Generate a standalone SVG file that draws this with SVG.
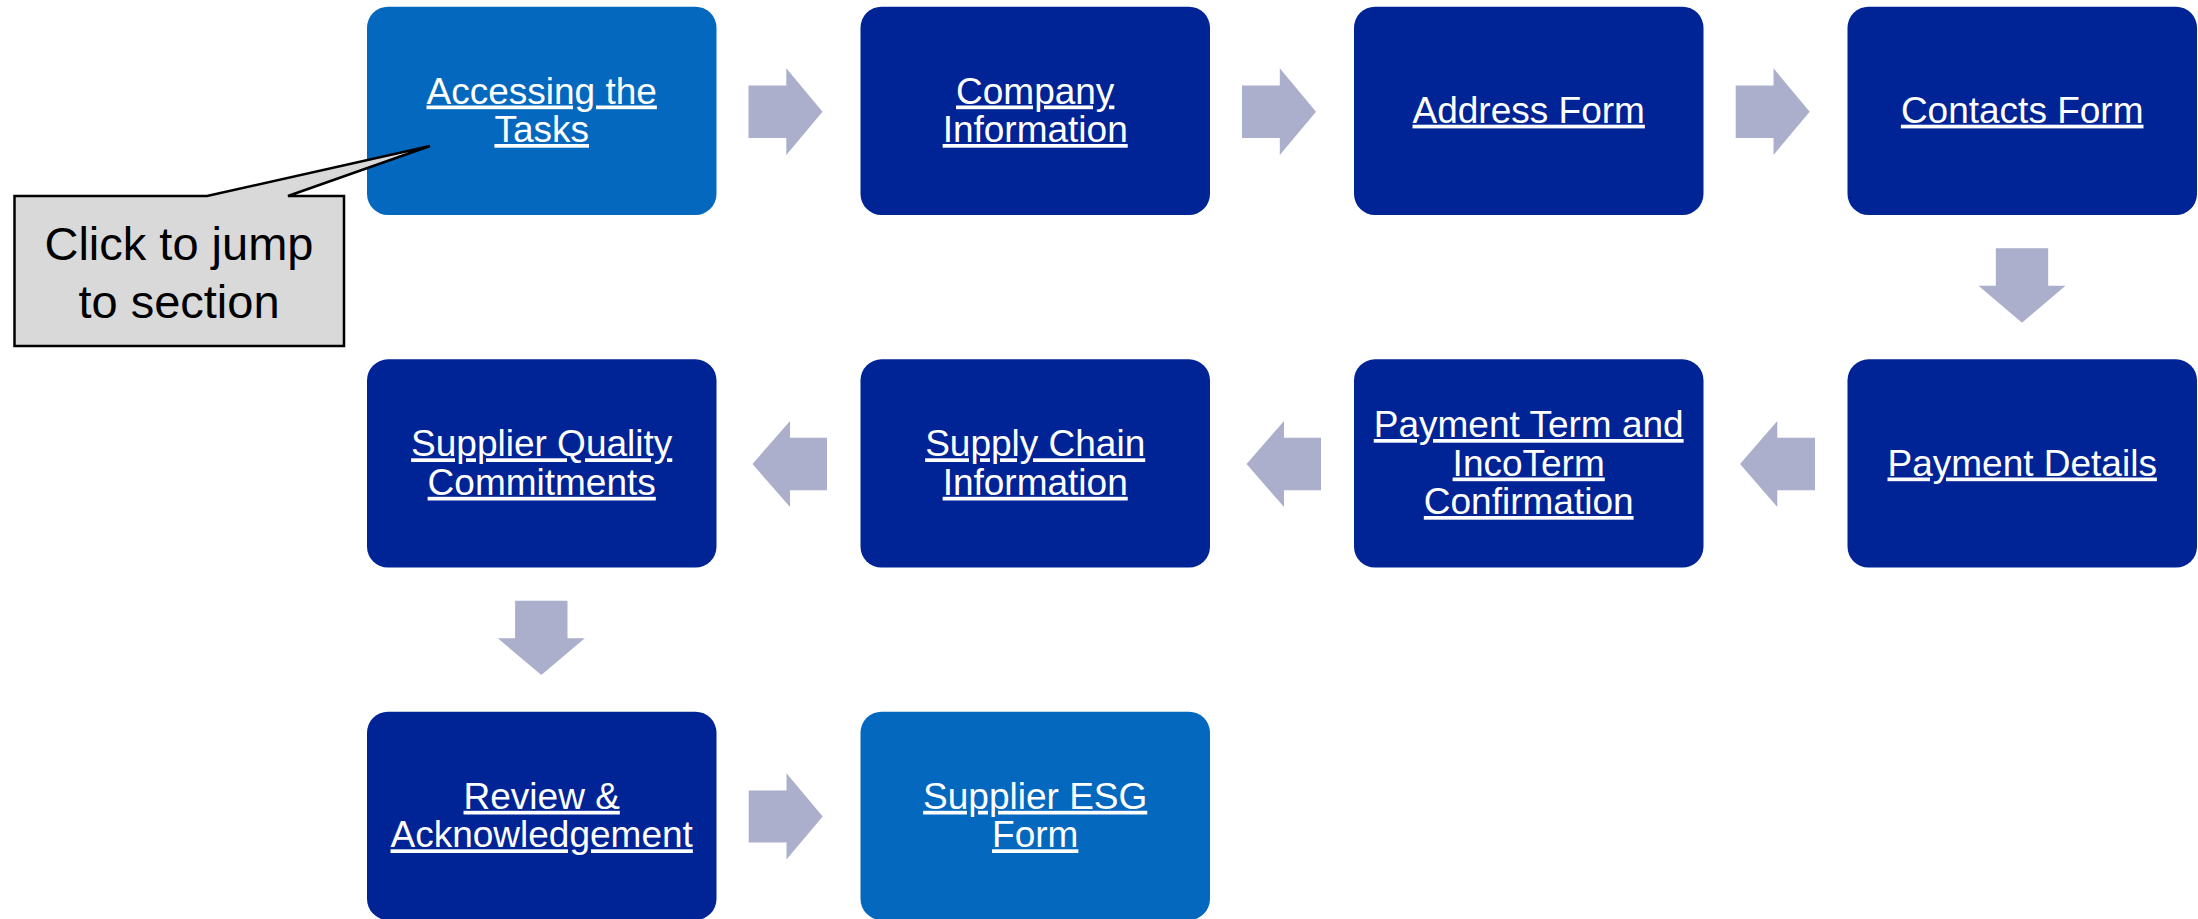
<svg xmlns="http://www.w3.org/2000/svg" width="2198" height="919" viewBox="0 0 2198 919">
<style>
.dark{fill:#002496}
.light{fill:#0468BE}
.lbl{font-family:"Liberation Sans",Arial,sans-serif;font-size:37px;fill:#FFFFFF;text-anchor:middle;text-decoration:underline}
.arr{fill:#ACAFCB}
.call{fill:#D9D9D9;stroke:#000000;stroke-width:2.5;stroke-linejoin:miter}
.ctext{font-family:"Liberation Sans",Arial,sans-serif;font-size:47px;fill:#000000;text-anchor:middle}
</style>
<rect width="2198" height="919" fill="#FFFFFF"/>
<g id="connectors">
<path class="arr" d="M748.5,85.5H786.3V68.3L822.5,111.7L786.3,155V137.9H748.5Z"/>
<path class="arr" d="M1242,85.5H1279.8V68.3L1316,111.7L1279.8,155V137.9H1242Z"/>
<path class="arr" d="M1735.7,85.5H1773.5V68.3L1809.7,111.7L1773.5,155V137.9H1735.7Z"/>
<path class="arr" d="M1995.8,248.3H2048.2V285.7H2065.5L2022,322.7L1978.5,285.7H1995.8Z"/>
<path class="arr" d="M1815,437.8H1777.3V421L1740,464L1777.3,507V490.2H1815Z"/>
<path class="arr" d="M1321,437.8H1284V421L1246.5,464L1284,507V490.2H1321Z"/>
<path class="arr" d="M827,437.8H790V421L752.5,464L790,507V490.2H827Z"/>
<path class="arr" d="M515.1,600.7H567.5V638.3H584.8L541.3,675L497.8,638.3H515.1Z"/>
<path class="arr" d="M748.7,790.4H786.5V773.3L822.7,816.5L786.5,859.5V842.6H748.7Z"/>
</g>
<g id="node-accessing">
<rect class="light" x="367" y="6.7" width="349.5" height="208.3" rx="21"/>
<text class="lbl" x="541.7" y="103.5">Accessing the</text>
<text class="lbl" x="541.7" y="142">Tasks</text>
</g>
<g id="node-company">
<rect class="dark" x="860.5" y="6.7" width="349.5" height="208.3" rx="21"/>
<text class="lbl" x="1035.2" y="103.5">Company</text>
<text class="lbl" x="1035.2" y="142">Information</text>
</g>
<g id="node-address">
<rect class="dark" x="1354" y="6.7" width="349.5" height="208.3" rx="21"/>
<text class="lbl" x="1528.7" y="122.7">Address Form</text>
</g>
<g id="node-contacts">
<rect class="dark" x="1847.5" y="6.7" width="349.5" height="208.3" rx="21"/>
<text class="lbl" x="2022.2" y="122.7">Contacts Form</text>
</g>
<g id="node-payment-details">
<rect class="dark" x="1847.5" y="359.3" width="349.5" height="208.3" rx="21"/>
<text class="lbl" x="2022.2" y="475.5">Payment Details</text>
</g>
<g id="node-payment-term">
<rect class="dark" x="1354" y="359.3" width="349.5" height="208.3" rx="21"/>
<text class="lbl" x="1528.7" y="437">Payment Term and</text>
<text class="lbl" x="1528.7" y="475.5">IncoTerm</text>
<text class="lbl" x="1528.7" y="514">Confirmation</text>
</g>
<g id="node-supply-chain">
<rect class="dark" x="860.5" y="359.3" width="349.5" height="208.3" rx="21"/>
<text class="lbl" x="1035.2" y="456.3">Supply Chain</text>
<text class="lbl" x="1035.2" y="494.8">Information</text>
</g>
<g id="node-supplier-quality">
<rect class="dark" x="367" y="359.3" width="349.5" height="208.3" rx="21"/>
<text class="lbl" x="541.7" y="456.3">Supplier Quality</text>
<text class="lbl" x="541.7" y="494.8">Commitments</text>
</g>
<g id="node-review">
<rect class="dark" x="367" y="711.7" width="349.5" height="208.3" rx="21"/>
<text class="lbl" x="541.7" y="808.8">Review &amp;</text>
<text class="lbl" x="541.7" y="847.3">Acknowledgement</text>
</g>
<g id="node-esg">
<rect class="light" x="860.5" y="711.7" width="349.5" height="208.3" rx="21"/>
<text class="lbl" x="1035.2" y="808.8">Supplier ESG</text>
<text class="lbl" x="1035.2" y="847.3">Form</text>
</g>
<g id="callout">
<path class="call" d="M14.5,196H207L430,146L288,196H344V346H14.5Z"/>
<text class="ctext" x="179" y="260">Click to jump</text>
<text class="ctext" x="179" y="318">to section</text>
</g>
</svg>
